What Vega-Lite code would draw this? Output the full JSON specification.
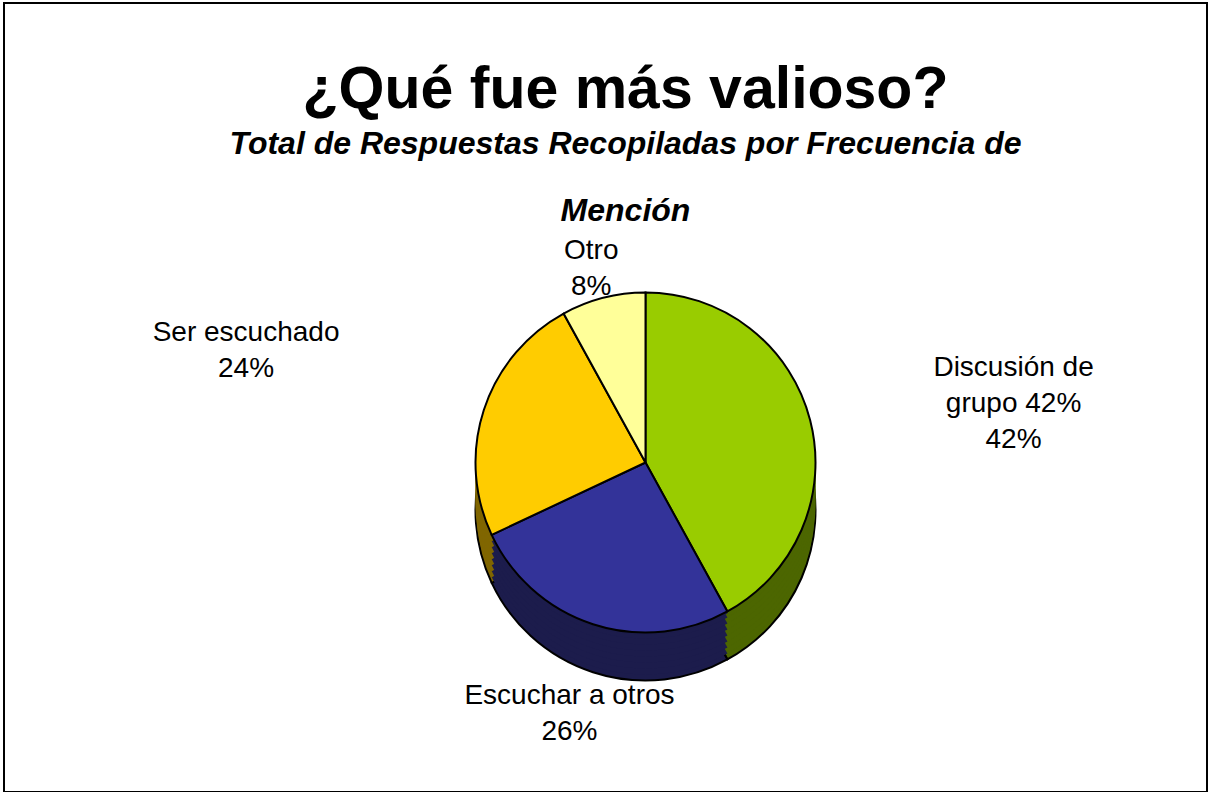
{
  "$schema": "https://vega.github.io/schema/vega-lite/v6.json",
  "autosize": "none",
  "width": 1203,
  "height": 789,
  "padding": {"left": 4, "top": 3, "right": 2, "bottom": 0},
  "background": "white",
  "config": {"view": {"stroke": null}, "font": "Liberation Sans"},
  "title": {
    "text": "¿Qué fue más valioso?",
    "subtitle": ["Total de Respuestas Recopiladas por Frecuencia de", "Mención"],
    "font": "Liberation Sans",
    "fontSize": 59,
    "fontWeight": "bold",
    "color": "black",
    "subtitleFont": "Liberation Sans",
    "subtitleFontSize": 32,
    "subtitleFontWeight": "bold",
    "subtitleFontStyle": "italic",
    "subtitleColor": "black",
    "subtitleLineHeight": 67,
    "subtitlePadding": 9,
    "anchor": "middle",
    "frame": "group",
    "offset": -225,
    "dx": 20
  },
  "data": {
    "values": [
      {"cat": "Discusión de grupo", "label": "Discusión de\ngrupo 42%\n42%", "value": 42},
      {"cat": "Escuchar a otros", "label": "Escuchar a otros\n26%", "value": 26},
      {"cat": "Ser escuchado", "label": "Ser escuchado\n24%", "value": 24},
      {"cat": "Otro", "label": "Otro\n8%", "value": 8}
    ]
  },
  "layer": [
    {
      "data": {"values": [{}]},
      "mark": {"type": "rect", "fill": null, "stroke": "black", "strokeWidth": 2},
      "encoding": {}
    },
    {
      "mark": {"type": "arc", "radius": 170, "xOffset": 40, "yOffset": 113, "stroke": "black", "strokeWidth": 2},
      "encoding": {
        "theta": {"field": "value", "type": "quantitative", "stack": true},
        "order": {"field": "value", "type": "quantitative", "sort": "descending"},
        "fill": {"field": "cat", "type": "nominal", "legend": null, "scale": {"domain": ["Discusión de grupo", "Escuchar a otros", "Ser escuchado", "Otro"], "range": ["#4C6600", "#1C1C4C", "#806600", "#80804C"]}}
      }
    },
    {
      "mark": {"type": "arc", "radius": 170, "xOffset": 40, "yOffset": 107, "strokeWidth": 0},
      "encoding": {
        "theta": {"field": "value", "type": "quantitative", "stack": true},
        "order": {"field": "value", "type": "quantitative", "sort": "descending"},
        "fill": {"field": "cat", "type": "nominal", "legend": null}
      }
    },
    {
      "mark": {"type": "arc", "radius": 170, "xOffset": 40, "yOffset": 101, "strokeWidth": 0},
      "encoding": {
        "theta": {"field": "value", "type": "quantitative", "stack": true},
        "order": {"field": "value", "type": "quantitative", "sort": "descending"},
        "fill": {"field": "cat", "type": "nominal", "legend": null}
      }
    },
    {
      "mark": {"type": "arc", "radius": 170, "xOffset": 40, "yOffset": 95, "strokeWidth": 0},
      "encoding": {
        "theta": {"field": "value", "type": "quantitative", "stack": true},
        "order": {"field": "value", "type": "quantitative", "sort": "descending"},
        "fill": {"field": "cat", "type": "nominal", "legend": null}
      }
    },
    {
      "mark": {"type": "arc", "radius": 170, "xOffset": 40, "yOffset": 89, "strokeWidth": 0},
      "encoding": {
        "theta": {"field": "value", "type": "quantitative", "stack": true},
        "order": {"field": "value", "type": "quantitative", "sort": "descending"},
        "fill": {"field": "cat", "type": "nominal", "legend": null}
      }
    },
    {
      "mark": {"type": "arc", "radius": 170, "xOffset": 40, "yOffset": 83, "strokeWidth": 0},
      "encoding": {
        "theta": {"field": "value", "type": "quantitative", "stack": true},
        "order": {"field": "value", "type": "quantitative", "sort": "descending"},
        "fill": {"field": "cat", "type": "nominal", "legend": null}
      }
    },
    {
      "mark": {"type": "arc", "radius": 170, "xOffset": 40, "yOffset": 77, "strokeWidth": 0},
      "encoding": {
        "theta": {"field": "value", "type": "quantitative", "stack": true},
        "order": {"field": "value", "type": "quantitative", "sort": "descending"},
        "fill": {"field": "cat", "type": "nominal", "legend": null}
      }
    },
    {
      "mark": {"type": "arc", "radius": 170, "xOffset": 40, "yOffset": 71, "strokeWidth": 0},
      "encoding": {
        "theta": {"field": "value", "type": "quantitative", "stack": true},
        "order": {"field": "value", "type": "quantitative", "sort": "descending"},
        "fill": {"field": "cat", "type": "nominal", "legend": null}
      }
    },
    {
      "mark": {"type": "arc", "radius": 170, "xOffset": 40, "yOffset": 67, "strokeWidth": 0},
      "encoding": {
        "theta": {"field": "value", "type": "quantitative", "stack": true},
        "order": {"field": "value", "type": "quantitative", "sort": "descending"},
        "fill": {"field": "cat", "type": "nominal", "legend": null}
      }
    },
    {
      "mark": {"type": "arc", "radius": 170, "xOffset": 40, "yOffset": 65, "stroke": "black", "strokeWidth": 2},
      "encoding": {
        "theta": {"field": "value", "type": "quantitative", "stack": true},
        "order": {"field": "value", "type": "quantitative", "sort": "descending"},
        "color": {"field": "cat", "type": "nominal", "legend": null, "scale": {"domain": ["Discusión de grupo", "Escuchar a otros", "Ser escuchado", "Otro"], "range": ["#99CC00", "#333399", "#FFCC00", "#FFFF99"]}}
      }
    },
    {
      "mark": {"type": "text", "radius": 380, "xOffset": 40, "yOffset": 65, "fontSize": 28, "lineHeight": 36, "lineBreak": "\n", "align": "center", "baseline": "middle", "color": "black", "font": "Liberation Sans"},
      "encoding": {
        "theta": {"field": "value", "type": "quantitative", "stack": true},
        "order": {"field": "value", "type": "quantitative", "sort": "descending"},
        "detail": {"field": "cat", "type": "nominal"},
        "opacity": {"condition": {"test": "datum.cat === 'Discusión de grupo'", "value": 1}, "value": 0},
        "text": {"field": "label", "type": "nominal"}
      }
    },
    {
      "mark": {"type": "text", "radius": 246, "xOffset": 40, "yOffset": 65, "fontSize": 28, "lineHeight": 36, "lineBreak": "\n", "align": "center", "baseline": "middle", "color": "black", "font": "Liberation Sans"},
      "encoding": {
        "theta": {"field": "value", "type": "quantitative", "stack": true},
        "order": {"field": "value", "type": "quantitative", "sort": "descending"},
        "detail": {"field": "cat", "type": "nominal"},
        "opacity": {"condition": {"test": "datum.cat === 'Escuchar a otros'", "value": 1}, "value": 0},
        "text": {"field": "label", "type": "nominal"}
      }
    },
    {
      "mark": {"type": "text", "radius": 420, "xOffset": 40, "yOffset": 65, "fontSize": 28, "lineHeight": 36, "lineBreak": "\n", "align": "center", "baseline": "middle", "color": "black", "font": "Liberation Sans"},
      "encoding": {
        "theta": {"field": "value", "type": "quantitative", "stack": true},
        "order": {"field": "value", "type": "quantitative", "sort": "descending"},
        "detail": {"field": "cat", "type": "nominal"},
        "opacity": {"condition": {"test": "datum.cat === 'Ser escuchado'", "value": 1}, "value": 0},
        "text": {"field": "label", "type": "nominal"}
      }
    },
    {
      "mark": {"type": "text", "radius": 218, "xOffset": 40, "yOffset": 65, "fontSize": 28, "lineHeight": 36, "lineBreak": "\n", "align": "center", "baseline": "middle", "color": "black", "font": "Liberation Sans"},
      "encoding": {
        "theta": {"field": "value", "type": "quantitative", "stack": true},
        "order": {"field": "value", "type": "quantitative", "sort": "descending"},
        "detail": {"field": "cat", "type": "nominal"},
        "opacity": {"condition": {"test": "datum.cat === 'Otro'", "value": 1}, "value": 0},
        "text": {"field": "label", "type": "nominal"}
      }
    }
  ]
}
